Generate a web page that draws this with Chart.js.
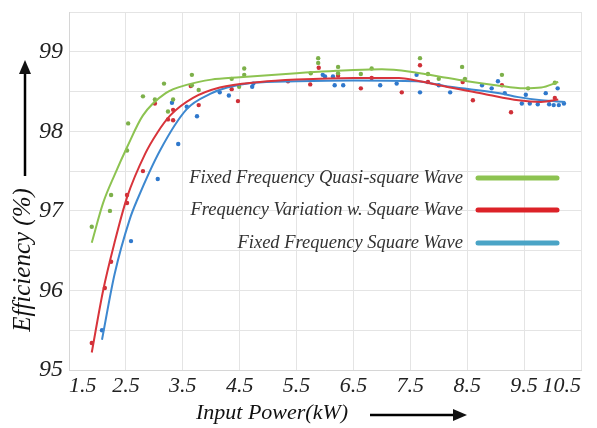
<!DOCTYPE html>
<html><head><meta charset="utf-8">
<script src="https://cdn.jsdelivr.net/npm/chart.js@4/dist/chart.umd.min.js"></script>
<style>html,body{margin:0;padding:0;background:#fff}</style>
</head><body>
<canvas id="c" width="597" height="428"></canvas>
<script>
// ---- data ----
const seriesNames = ['Fixed Frequency Quasi-square Wave', 'Frequency Variation w. Square Wave', 'Fixed Frequency Square Wave'];
const xTickLabels = ['1.5','2.5','3.5','4.5','5.5','6.5','7.5','8.5','9.5','10.5'];
const yTickLabels = ['95','96','97','98','99'];
const xAxisTitle = 'Input Power(kW)';
const yAxisTitle = 'Efficiency (%)';

// fitted trend curves [kW, %]
const quasiCurve = [[1.9,96.6],[2.1,97.1],[2.3,97.45],[2.52,97.8],[2.8,98.2],[3.2,98.48],[3.6,98.59],[4.0,98.65],[4.5,98.68],[5.5,98.73],[6.5,98.77],[7.0,98.78],[7.5,98.75],[8.0,98.69],[8.5,98.63],[9.0,98.58],[9.5,98.54],[9.8,98.55],[10.1,98.62]];
const varCurve = [[1.9,95.22],[2.1,96.0],[2.3,96.6],[2.52,97.17],[2.84,97.72],[3.05,97.98],[3.28,98.2],[3.68,98.42],[4.15,98.55],[4.86,98.62],[5.5,98.65],[6.5,98.67],[7.3,98.67],[7.6,98.64],[8.2,98.55],[8.8,98.47],[9.4,98.39],[9.8,98.37],[10.1,98.4]];
const squareCurve = [[2.08,95.38],[2.3,96.2],[2.57,96.9],[2.7,97.14],[3.1,97.76],[3.57,98.28],[3.98,98.47],[4.28,98.55],[4.73,98.61],[5.5,98.63],[6.5,98.64],[7.6,98.63],[8.2,98.56],[9.07,98.48],[9.4,98.43],[9.8,98.39],[10.22,98.37]];

// measured points [kW, %]
const quasiPoints = [[1.9,96.8],[2.24,97.2],[2.22,97.0],[2.54,98.1],[2.52,97.76],[2.8,98.44],[3.01,98.4],[3.17,98.6],[3.24,98.25],[3.33,98.4],[3.66,98.71],[3.66,98.58],[3.78,98.52],[4.58,98.79],[4.58,98.71],[4.36,98.66],[4.49,98.56],[5.88,98.92],[5.88,98.86],[5.75,98.73],[6.23,98.81],[6.23,98.73],[6.63,98.72],[6.82,98.79],[7.67,98.92],[7.81,98.72],[8.0,98.66],[8.41,98.81],[8.46,98.66],[9.11,98.71],[9.57,98.54],[10.04,98.61]];
const varPoints = [[1.9,95.34],[2.13,96.03],[2.24,96.36],[2.52,97.2],[2.52,97.1],[2.8,97.5],[3.24,98.15],[3.33,98.14],[3.01,98.35],[3.33,98.27],[3.64,98.57],[3.78,98.33],[4.47,98.38],[4.36,98.53],[5.35,98.63],[5.74,98.59],[5.89,98.8],[6.23,98.7],[6.63,98.54],[6.82,98.67],[7.35,98.49],[7.67,98.83],[7.81,98.62],[8.42,98.62],[8.6,98.39],[9.11,98.58],[9.27,98.24],[10.04,98.42]];
const squarePoints = [[2.08,95.5],[2.59,96.62],[3.06,97.4],[3.42,97.84],[3.31,98.36],[3.57,98.31],[3.75,98.19],[4.31,98.45],[4.15,98.49],[4.72,98.56],[4.74,98.6],[6.0,98.69],[6.14,98.69],[6.17,98.58],[6.32,98.58],[5.96,98.71],[6.97,98.58],[7.26,98.6],[7.61,98.71],[7.67,98.49],[8.0,98.58],[8.2,98.49],[8.76,98.58],[8.93,98.54],[9.04,98.63],[9.16,98.48],[9.53,98.46],[9.46,98.35],[9.6,98.35],[9.74,98.34],[9.88,98.48],[9.94,98.34],[10.02,98.33],[10.09,98.54],[10.11,98.33],[10.2,98.35]];

const curveColors = ['#8dc351', '#d8343b', '#3d88d0'];
const pointColors = ['#7db04a', '#cf3038', '#2f78cc'];
const legendColors = ['#8dc351', '#dc2228', '#4aa4c6'];

const toXY = a => a.map(p => ({x: p[0], y: p[1]}));
const serif = "'Liberation Serif', 'Times New Roman', serif";

const curves = [quasiCurve, varCurve, squareCurve];
const points = [quasiPoints, varPoints, squarePoints];
const datasets = [];
points.forEach((p, i) => datasets.push({
  type: 'scatter', label: seriesNames[i] + ' (data)', data: toXY(p),
  pointRadius: 2.2, pointBorderWidth: 0, backgroundColor: pointColors[i], borderColor: pointColors[i], order: 2
}));
curves.forEach((c, i) => datasets.push({
  type: 'line', label: seriesNames[i], data: toXY(c),
  borderColor: curveColors[i], borderWidth: 2, pointRadius: 0, fill: false,
  cubicInterpolationMode: 'monotone', order: 1
}));

const decor = {
  id: 'decor',
  afterDraw(chart) {
    const ctx = chart.ctx;
    ctx.save();
    // legend inside plot
    ctx.font = 'italic 18.5px ' + serif;
    ctx.textAlign = 'right';
    ctx.textBaseline = 'middle';
    const rows = [178, 210, 243];
    seriesNames.forEach((n, i) => {
      ctx.fillStyle = '#333';
      ctx.fillText(n, 463, rows[i]);
      ctx.strokeStyle = legendColors[i];
      ctx.lineWidth = 5;
      ctx.lineCap = 'round';
      ctx.beginPath(); ctx.moveTo(478, rows[i]); ctx.lineTo(557, rows[i]); ctx.stroke();
    });
    // x axis title + arrow
    ctx.fillStyle = '#111';
    ctx.font = 'italic 22px ' + serif;
    ctx.textAlign = 'center';
    ctx.textBaseline = 'middle';
    ctx.fillText(xAxisTitle, 272, 413);
    ctx.strokeStyle = '#000'; ctx.lineWidth = 2.5; ctx.lineCap = 'butt';
    ctx.beginPath(); ctx.moveTo(370, 415); ctx.lineTo(455, 415); ctx.stroke();
    ctx.beginPath(); ctx.moveTo(467, 415); ctx.lineTo(453, 409); ctx.lineTo(453, 421); ctx.closePath(); ctx.fill();
    // y axis title + arrow
    ctx.save();
    ctx.font = 'italic 25px ' + serif;
    ctx.translate(23, 260);
    ctx.rotate(-Math.PI / 2);
    ctx.fillText(yAxisTitle, 0, 0);
    ctx.restore();
    ctx.beginPath(); ctx.moveTo(25, 176); ctx.lineTo(25, 72); ctx.stroke();
    ctx.beginPath(); ctx.moveTo(25, 60); ctx.lineTo(19, 74); ctx.lineTo(31, 74); ctx.closePath(); ctx.fill();
    ctx.restore();
  }
};

new Chart(document.getElementById('c'), {
  data: { datasets },
  options: {
    responsive: false, animation: false,
    layout: { padding: { top: 12, right: 16, left: 0, bottom: 0 } },
    plugins: { legend: { display: false }, tooltip: { enabled: false } },
    scales: {
      x: {
        type: 'linear', min: 1.5, max: 10.5,
        ticks: { stepSize: 1, padding: 3, align: 'inner', color: '#222', font: { family: serif, style: 'italic', size: 22 },
          callback: (v, i) => xTickLabels[i] ?? '' , maxRotation: 0, autoSkip: false },
        grid: { color: '#e4e4e4', lineWidth: 1, drawTicks: false },
        border: { color: '#d6d6d6' },
        afterFit(s) { s.height = 58; s.paddingLeft = 0; s.paddingRight = 0; }
      },
      y: {
        type: 'linear', min: 95, max: 99.5,
        ticks: { stepSize: 0.5, padding: 6, color: '#222', font: { family: serif, style: 'italic', size: 24 },
          callback: v => { const s = String(v); return yTickLabels.includes(s) ? s : ''; } },
        grid: { color: '#e4e4e4', lineWidth: 1, drawTicks: false },
        border: { color: '#d6d6d6' },
        afterFit(s) { s.width = 69; s.paddingTop = 0; s.paddingBottom = 0; }
      }
    }
  },
  plugins: [decor]
});
</script>
</body></html>
